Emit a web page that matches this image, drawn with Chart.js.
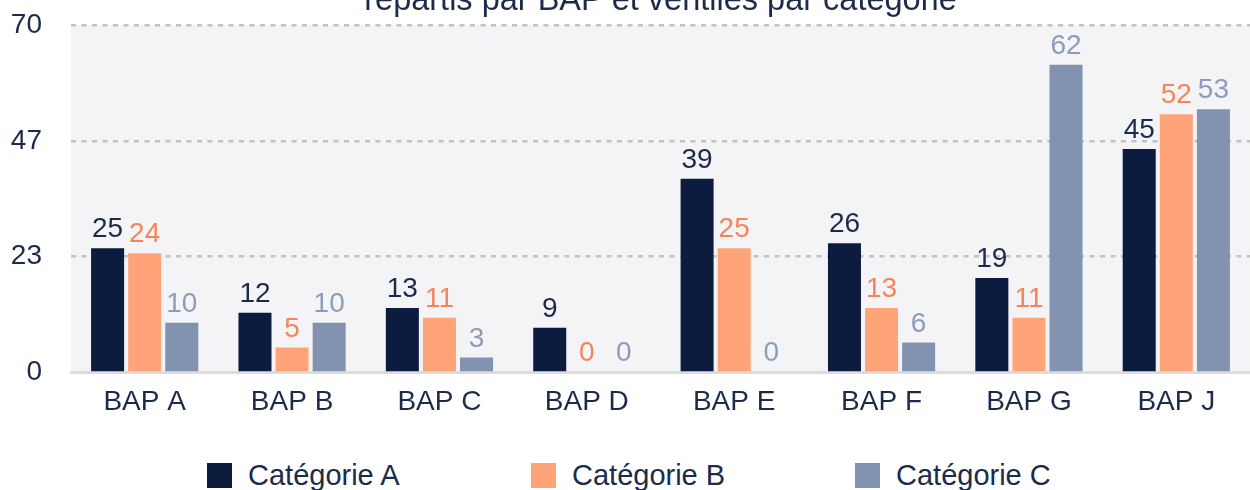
<!DOCTYPE html>
<html lang="fr">
<head>
<meta charset="utf-8">
<script src="https://cdn.jsdelivr.net/npm/chart.js@4.4.1/dist/chart.umd.min.js"></script>
<style>
    html, body { margin: 0; padding: 0; background: #fff; overflow: hidden; }
    #page { position: relative; width: 1250px; height: 490px; overflow: hidden; font-family: "Liberation Sans", Arial, sans-serif; }
    #chart-box { position: absolute; left: 0; top: -28px; width: 1250px; height: 460px; }
    #legend { position: absolute; left: 207px; top: 459px; display: flex; }
    .legend-item { display: flex; align-items: center; width: 324px; font-size: 29px; color: #1c2b4b; }
    .legend-swatch { width: 25px; height: 25px; margin-right: 16px; flex: none; }
</style>
</head>
<body>
<div id="page">
    <div id="chart-box"><canvas id="bap-chart"></canvas></div>
    <div id="legend"></div>
</div>
<script>
// Chart data
const bapLabels = ["BAP A", "BAP B", "BAP C", "BAP D", "BAP E", "BAP F", "BAP G", "BAP J"];
const seriesNames = ["Catégorie A", "Catégorie B", "Catégorie C"];
const categoryA = [25, 12, 13, 9, 39, 26, 19, 45];
const categoryB = [24, 5, 11, 0, 25, 13, 11, 52];
const categoryC = [10, 10, 3, 0, 0, 6, 62, 53];
const yTickValues = [0, 70 / 3, 140 / 3, 70];
const chartTitle = "répartis par BAP et ventilés par catégorie";

const barColors = ["#0b1c3e", "#ffa478", "#8193b0"];
const valueColors = ["#1b2a4a", "#f2855b", "#8c9dbb"];
const textColor = "#1c2b4b";
const fontFamily = '"Liberation Sans", Arial, sans-serif';

// Light grey plot area
const plotBackground = {
    id: "plotBackground",
    beforeDraw(chart) {
        const { ctx, chartArea } = chart;
        ctx.save();
        ctx.fillStyle = "#f4f4f6";
        ctx.fillRect(chartArea.left, chartArea.top, chartArea.right - chartArea.left, chartArea.bottom - chartArea.top);
        ctx.restore();
    }
};

// Value labels above each bar
const valueLabels = {
    id: "valueLabels",
    afterDatasetsDraw(chart) {
        const ctx = chart.ctx;
        ctx.save();
        ctx.font = "28px " + fontFamily;
        ctx.textAlign = "center";
        ctx.textBaseline = "alphabetic";
        chart.data.datasets.forEach((dataset, i) => {
            const meta = chart.getDatasetMeta(i);
            ctx.fillStyle = valueColors[i];
            meta.data.forEach((bar, j) => {
                ctx.fillText(String(dataset.data[j]), bar.x, bar.y - 11);
            });
        });
        ctx.restore();
    }
};

const datasets = [categoryA, categoryB, categoryC].map((values, i) => ({
    label: seriesNames[i],
    data: values,
    backgroundColor: barColors[i],
    categoryPercentage: 0.755,
    barPercentage: 0.89
}));

new Chart(document.getElementById("bap-chart"), {
    type: "bar",
    data: { labels: bapLabels, datasets: datasets },
    plugins: [plotBackground, valueLabels],
    options: {
        responsive: true,
        maintainAspectRatio: false,
        animation: false,
        layout: { padding: { left: 10, right: 0, top: 0, bottom: 8 } },
        plugins: {
            legend: { display: false },
            tooltip: { enabled: false },
            title: {
                display: true,
                text: chartTitle,
                fullSize: false,
                color: textColor,
                font: { family: fontFamily, size: 32.5, weight: "normal", lineHeight: 1.2 },
                padding: { top: 10, bottom: 4 }
            }
        },
        scales: {
            x: {
                grid: { display: false },
                border: { display: true, color: "#dcdcdf", width: 3 },
                ticks: { color: textColor, font: { family: fontFamily, size: 28 }, padding: 5 }
            },
            y: {
                min: 0,
                max: 70,
                afterBuildTicks(axis) {
                    axis.ticks = yTickValues.map(v => ({ value: v }));
                },
                afterFit(axis) {
                    axis.width = 61;
                },
                grid: { color: "#c2c2c2", lineWidth: 2.5, drawTicks: false },
                border: { display: false, dash: [5, 5.5] },
                ticks: {
                    color: textColor,
                    font: { family: fontFamily, size: 28 },
                    padding: 29,
                    callback: value => Math.round(value)
                }
            }
        }
    }
});

// Legend below the chart
const legend = document.getElementById("legend");
seriesNames.forEach((name, i) => {
    const item = document.createElement("div");
    item.className = "legend-item";
    item.innerHTML = `<span class="legend-swatch" style="background:${barColors[i]}"></span><span>${name}</span>`;
    legend.appendChild(item);
});
</script>
</body>
</html>
